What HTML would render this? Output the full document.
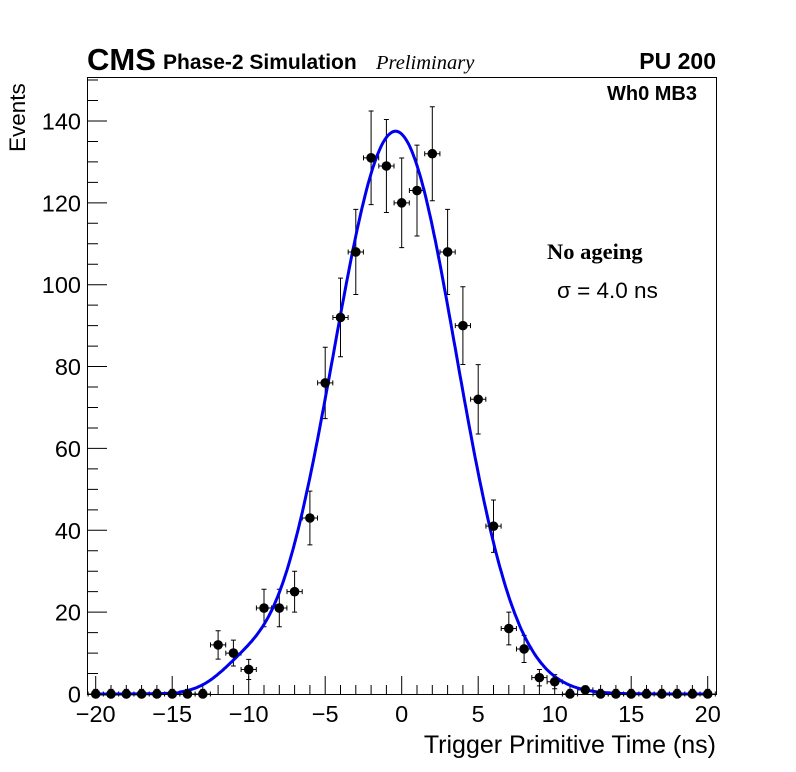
<!DOCTYPE html>
<html><head><meta charset="utf-8"><style>
body{margin:0;background:#fff}
svg{display:block}
text{font-family:"Liberation Sans",sans-serif;fill:#000}
</style></head><body>
<svg id="s" width="796" height="772" viewBox="0 0 796 772" xmlns="http://www.w3.org/2000/svg">
<rect x="0" y="0" width="796" height="772" fill="#fff"/>
<g id="g"></g>
<rect x="87.5" y="77.5" width="629" height="617" fill="none" stroke="#000" stroke-width="1"/>
<text x="87" y="70" font-size="31" font-weight="bold">CMS</text>
<text x="163" y="69" font-size="21" font-weight="bold">Phase-2 Simulation</text>
<text x="376" y="69" font-size="20.5" font-style="italic" style="font-family:'Liberation Serif',serif">Preliminary</text>
<text x="716" y="69" font-size="23" font-weight="bold" text-anchor="end">PU 200</text>
<text x="697" y="100" font-size="20" font-weight="bold" text-anchor="end">Wh0 MB3</text>
<text x="547" y="259" font-size="22.5" font-weight="bold" style="font-family:'Liberation Serif',serif">No ageing</text>
<text x="557" y="298" font-size="22.5">σ = 4.0 ns</text>
<text x="716" y="753" font-size="25" text-anchor="end">Trigger Primitive Time (ns)</text>
<text transform="translate(25,152) rotate(-90)" font-size="22.5">Events</text>
</svg>
<script>
var g=document.getElementById('g'),ns='http://www.w3.org/2000/svg';
function X(v){return 401.7+15.3*v}function Y(v){return 694-4.093*v}
function el(t,a,txt){var e=document.createElementNS(ns,t);for(var k in a)e.setAttribute(k,a[k]);if(txt!==undefined)e.textContent=txt;g.appendChild(e);return e}
var p='';
for(var v=-20;v<=20;v++){var L=(v%5==0)?18:9;p+='M'+X(v)+' 694V'+(694-L);}
for(var v=0;v<=150;v+=5){var L=(v%20==0)?19:10;if(Y(v)<78)continue;p+='M88 '+Y(v)+'H'+(88+L);}
el('path',{d:p,stroke:'#000','stroke-width':1,fill:'none'});
for(var v=-20;v<=20;v+=5){var s=(v<0?'\u2212':'')+Math.abs(v);el('text',{x:X(v),y:722,'font-size':23.5,'text-anchor':'middle'},s);}
for(var v=0;v<=140;v+=20){el('text',{x:81,y:Y(v)+8.5,'font-size':23.5,'text-anchor':'end'},''+v);}
var d={'-12':12,'-11':10,'-10':6,'-9':21,'-8':21,'-7':25,'-6':43,'-5':76,'-4':92,'-3':108,'-2':131,'-1':129,'0':120,'1':123,'2':132,'3':108,'4':90,'5':72,'6':41,'7':16,'8':11,'9':4,'10':3,'12':1};
var ep='';
for(var v=-20;v<=20;v++){var n=d[v]||0;var e=Math.sqrt(n);var yy=Y(n);
 var eh=n>0?e:1.14;var ylo=n>0?Y(n-e):694;
 ep+='M'+(X(v)-7.6)+' '+yy+'H'+(X(v)+7.6)+'M'+(X(v)-7.6)+' '+(yy-2.5)+'v5M'+(X(v)+7.6)+' '+(yy-2.5)+'v5';
 ep+='M'+X(v)+' '+Y(n+eh)+'V'+Math.min(694,ylo)+'M'+(X(v)-2.5)+' '+Y(n+eh)+'h5'+(n>0?'M'+(X(v)-2.5)+' '+ylo+'h5':'');
}
el('path',{d:ep,stroke:'#000','stroke-width':1,fill:'none'});
var fp='';
for(var t=-20;t<=20;t+=0.1){var sg=t<-0.4?4.05:3.95;var f=137.5*Math.exp(-0.5*Math.pow((t+0.4)/sg,2));var tail=(t<-6&&t>-14.5)?4*Math.exp(-0.5*Math.pow((t+10.5)/1.6,2)):0;fp+=(fp?'L':'M')+X(t).toFixed(1)+' '+Y(f+tail).toFixed(1);}
el('path',{d:fp,stroke:'#0000ee','stroke-width':3,fill:'none'});
for(var v=-20;v<=20;v++){var n=d[v]||0;el('circle',{cx:X(v),cy:Y(n),r:4.8,fill:'#000'});}
</script>
</body></html>
